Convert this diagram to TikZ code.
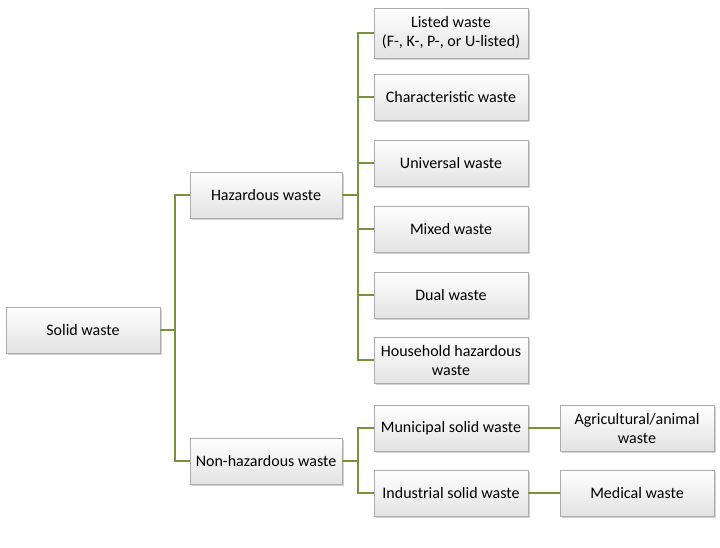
\documentclass[tikz,border=0pt]{standalone}
\usepackage{fontspec}
\setmainfont{Carlito}
\usetikzlibrary{shadows}
\definecolor{olv}{HTML}{77933C}
\begin{document}
\begin{tikzpicture}[x=1pt,y=-1pt,
  box/.style={draw=gray!65,top color=white,bottom color=gray!22,minimum width=154pt,minimum height=46pt,
    inner sep=1pt,align=center,font=\fontsize{16}{19}\selectfont,
    drop shadow={shadow xshift=2pt,shadow yshift=-2pt,opacity=0.35}},
  conn/.style={draw=olv,line width=1.6pt}]
\useasboundingbox (0,0) rectangle (720,547);
\node[box] (sw) at (83,330) {Solid waste};
\node[box,minimum width=152pt] (hz) at (266,195) {Hazardous waste};
\node[box,minimum width=152pt] (nh) at (266,461) {Non-hazardous waste};
\node[box,minimum height=50pt] (l1) at (451,33) {Listed waste\\(F-, K-, P-, or U-listed)};
\node[box] (l2) at (451,97) {Characteristic waste};
\node[box] (l3) at (451,163) {Universal waste};
\node[box] (l4) at (451,229) {Mixed waste};
\node[box] (l5) at (451,295) {Dual waste};
\node[box] (l6) at (451,360) {Household hazardous\\waste};
\node[box] (m1) at (451,428) {Municipal solid waste};
\node[box] (m2) at (451,493) {Industrial solid waste};
\node[box] (ag) at (637,428) {Agricultural/animal\\waste};
\node[box] (md) at (637,493) {Medical waste};
\coordinate (j1) at (175,330);
\coordinate (j2) at (358,195);
\coordinate (j3) at (358,461);
\draw[conn] (sw.east) -- (j1);
\foreach \t in {hz,nh} \draw[conn] (j1) |- (\t.west);
\draw[conn] (hz.east) -- (j2);
\foreach \t in {l1,l2,l3,l4,l5,l6} \draw[conn] (j2) |- (\t.west);
\draw[conn] (nh.east) -- (j3);
\foreach \t in {m1,m2} \draw[conn] (j3) |- (\t.west);
\draw[conn] (m1) -- (ag);
\draw[conn] (m2) -- (md);
\end{tikzpicture}
\end{document}
